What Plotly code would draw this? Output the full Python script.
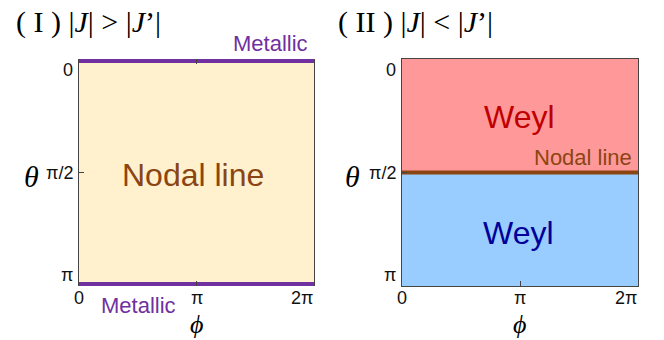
import math
import plotly.graph_objects as go

# Parameter ranges: azimuth phi in [0, 2pi], polar angle theta in [0, pi]
phi_edges = [0.0, 2 * math.pi]
theta_edges = [0.0, math.pi]
theta_mid = math.pi / 2

# Tick positions and their labels
x_tickvals = [0.0, math.pi, 2 * math.pi]
x_ticktext = ["0", "π", "2π"]
y_tickvals = [0.0, math.pi / 2, math.pi]
y_ticktext = ["0", "π/2", "π"]

# Phase boundaries for each regime
metallic_thetas = [0.0, math.pi]          # case I: metallic at the poles
nodal_theta_case2 = theta_mid             # case II: nodal line on the equator

CREAM = "#FFF1CE"
PINK = "#FF9999"
SKY = "#99CCFF"
PURPLE = "#7030A0"
BROWN = "#8B4513"
WEYL_RED = "#C00000"
WEYL_BLUE = "#000099"
FRAME = "#444444"


def rect(x0, x1, y0, y1):
    return [x0, x1, x1, x0, x0], [y0, y0, y1, y1, y0]


fig = go.Figure()

# Case I: whole sphere is a nodal-line phase
xs, ys = rect(phi_edges[0], phi_edges[1], theta_edges[0], theta_edges[1])
fig.add_trace(go.Scatter(x=xs, y=ys, fill="toself", fillcolor=CREAM,
                         line=dict(width=0), mode="lines",
                         xaxis="x", yaxis="y", hoverinfo="skip"))
for th in metallic_thetas:
    fig.add_trace(go.Scatter(x=phi_edges, y=[th, th], mode="lines",
                             line=dict(color=PURPLE, width=8),
                             xaxis="x", yaxis="y", hoverinfo="skip"))

# Case II: Weyl phases in each hemisphere, nodal line on the equator
xs, ys = rect(phi_edges[0], phi_edges[1], theta_edges[0], theta_mid)
fig.add_trace(go.Scatter(x=xs, y=ys, fill="toself", fillcolor=PINK,
                         line=dict(width=0), mode="lines",
                         xaxis="x2", yaxis="y2", hoverinfo="skip"))
xs, ys = rect(phi_edges[0], phi_edges[1], theta_mid, theta_edges[1])
fig.add_trace(go.Scatter(x=xs, y=ys, fill="toself", fillcolor=SKY,
                         line=dict(width=0), mode="lines",
                         xaxis="x2", yaxis="y2", hoverinfo="skip"))
fig.add_trace(go.Scatter(x=phi_edges, y=[nodal_theta_case2] * 2, mode="lines",
                         line=dict(color=BROWN, width=4),
                         xaxis="x2", yaxis="y2", hoverinfo="skip"))

sans = "Liberation Sans, Arial, sans-serif"
serif = "Liberation Serif, Times New Roman, serif"
tick_font = dict(family=sans, size=18, color="#111111")

# Axes draw the frame and the small inward ticks; labels are placed below
xaxis_common = dict(range=phi_edges, tickvals=x_tickvals, showticklabels=False,
                    ticks="inside", ticklen=5, tickcolor=FRAME, tickwidth=1,
                    mirror="ticks", showgrid=False, zeroline=False,
                    fixedrange=True)
yaxis_common = dict(range=[theta_edges[1], theta_edges[0]], tickvals=y_tickvals,
                    showticklabels=False, ticks="inside", ticklen=5,
                    tickcolor=FRAME, tickwidth=1,
                    showline=True, linecolor=FRAME, linewidth=1, mirror=True,
                    showgrid=False, zeroline=False, fixedrange=True)

y_dom = [1 - 286 / 340, 1 - 59 / 340]

fig.update_layout(
    width=664, height=340,
    margin=dict(l=0, r=0, t=0, b=0),
    paper_bgcolor="white", plot_bgcolor="white",
    showlegend=False,
    xaxis=dict(xaxis_common, domain=[79 / 664, 314 / 664], anchor="y",
               showline=False),
    yaxis=dict(yaxis_common, domain=y_dom, anchor="x"),
    xaxis2=dict(xaxis_common, domain=[402 / 664, 638 / 664], anchor="y2",
                showline=True, linecolor=FRAME, linewidth=1, mirror=True),
    yaxis2=dict(yaxis_common, domain=y_dom, anchor="x2"),
)

annotations = []

# tick labels, placed through each subplot's own scales
x_anchor = ["center", "center", "right"]
y_anchor = ["top", "middle", "bottom"]
for xr, yr in (("x", "y"), ("x2", "y2")):
    for v, t, xa in zip(x_tickvals, x_ticktext, x_anchor):
        annotations.append(dict(text=t, x=v, y=theta_edges[1], xref=xr, yref=yr,
                                xanchor=xa, yanchor="top", yshift=-1,
                                borderpad=0, font=tick_font))
    for v, t, ya in zip(y_tickvals, y_ticktext, y_anchor):
        annotations.append(dict(text=t, x=phi_edges[0], y=v, xref=xr, yref=yr,
                                xanchor="right", yanchor=ya, xshift=-5,
                                borderpad=0, font=tick_font))

paper_notes = [
    # panel titles
    dict(text="( I ) |<i>J</i>| > |<i>J</i>’|", x=14 / 664, y=1 - 22 / 340,
         xanchor="left", yanchor="middle", font=dict(family=serif, size=30, color="black")),
    dict(text="( II ) |<i>J</i>| < |<i>J</i>’|", x=336 / 664, y=1 - 22 / 340,
         xanchor="left", yanchor="middle", font=dict(family=serif, size=30, color="black")),
    # axis symbols
    dict(text="<i>θ</i>", x=31 / 664, y=1 - 176 / 340, xanchor="center", yanchor="middle",
         font=dict(family=serif, size=30, color="black")),
    dict(text="<i>θ</i>", x=353 / 664, y=1 - 176 / 340, xanchor="center", yanchor="middle",
         font=dict(family=serif, size=30, color="black")),
    dict(text="<i>ϕ</i>", x=196 / 664, y=0.0, xanchor="center", yanchor="bottom",
         font=dict(family=serif, size=26, color="black"), borderpad=0),
    dict(text="<i>ϕ</i>", x=519 / 664, y=0.0, xanchor="center", yanchor="bottom",
         font=dict(family=serif, size=26, color="black"), borderpad=0),
    # phase labels, case I
    dict(text="Metallic", x=310 / 664, y=1 - 44 / 340, xanchor="right", yanchor="middle",
         font=dict(family=sans, size=22, color=PURPLE)),
    dict(text="Metallic", x=99 / 664, y=1 - 305 / 340, xanchor="left", yanchor="middle",
         font=dict(family=sans, size=22, color=PURPLE)),
    dict(text="Nodal line", x=193 / 664, y=1 - 175 / 340, xanchor="center", yanchor="middle",
         font=dict(family=sans, size=32, color=BROWN)),
    # phase labels, case II
    dict(text="Weyl", x=519 / 664, y=1 - 117 / 340, xanchor="center", yanchor="middle",
         font=dict(family=sans, size=32, color=WEYL_RED)),
    dict(text="Nodal line", x=634 / 664, y=1 - 157 / 340, xanchor="right", yanchor="middle",
         font=dict(family=sans, size=22, color=BROWN)),
    dict(text="Weyl", x=518 / 664, y=1 - 233 / 340, xanchor="center", yanchor="middle",
         font=dict(family=sans, size=32, color=WEYL_BLUE)),
]
for a in paper_notes:
    a.update(xref="paper", yref="paper")
annotations += paper_notes
for a in annotations:
    a.update(showarrow=False)
fig.update_layout(annotations=annotations)

fig.write_html("out.html", config={"displayModeBar": False})
